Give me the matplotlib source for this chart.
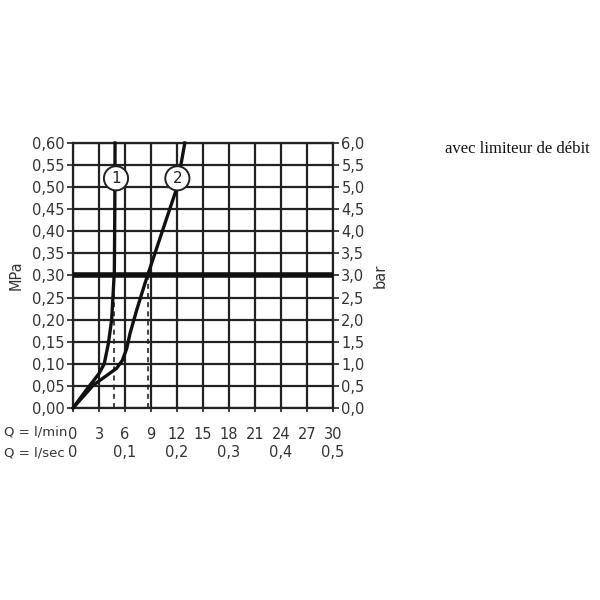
import matplotlib.pyplot as plt

# Durchfluss-Kennlinien (l/min -> MPa)
q_curve1 = [0, 1.5, 3.0, 3.6, 4.08, 4.46, 4.65, 4.77, 4.82, 4.85]
p_curve1 = [0, 0.04, 0.078, 0.1, 0.146, 0.20, 0.267, 0.31, 0.45, 0.60]
q_curve2 = [0, 2.35, 4.2, 5.04, 5.7, 6.2, 6.58, 7.35, 8.3, 8.6, 10.3, 11.96, 12.9]
p_curve2 = [0, 0.052, 0.078, 0.09, 0.108, 0.135, 0.169, 0.222, 0.282, 0.30, 0.40, 0.497, 0.60]
dashed_q = [4.75, 8.6]
ref_pressure = 0.30

lmin_ticks = [0, 3, 6, 9, 12, 15, 18, 21, 24, 27, 30]
lsec_ticks = [0, 6, 12, 18, 24, 30]
lsec_labels = ["0", "0,1", "0,2", "0,3", "0,4", "0,5"]
mpa_ticks = [i * 0.05 for i in range(13)]
bar_ticks = [i * 0.5 for i in range(13)]

dark = "#222222"
txt = "#333333"
fs = 10.5

fig = plt.figure(figsize=(6, 6), dpi=100)
ax = fig.add_axes([0.1217, 0.32, 0.4333, 0.4417])

ax.set_xlim(0, 30)
ax.set_ylim(0, 0.6)
ax.set_xticks(lmin_ticks)
ax.set_xticklabels([str(v) for v in lmin_ticks], fontsize=fs, color=txt)
ax.set_yticks(mpa_ticks)
ax.set_yticklabels([f"{v:.2f}".replace(".", ",") for v in mpa_ticks], fontsize=fs, color=txt)
ax.grid(True, color=dark, linewidth=1.6)
ax.tick_params(axis="y", length=4, width=1.2, color=dark, pad=2)
ax.tick_params(axis="x", length=3, width=1.2, color=dark, pad=10.5)
for s in ax.spines.values():
    s.set_linewidth(1.6)
    s.set_color(dark)

ax.axhline(ref_pressure, color="#111111", linewidth=4, zorder=3)
for q in dashed_q:
    ax.plot([q, q], [0, ref_pressure], color=dark, linestyle=(0, (3, 2.5)), linewidth=1.2, zorder=3)

ax.plot(q_curve1, p_curve1, color="#111111", linewidth=2.4, zorder=4, clip_on=False)
ax.plot(q_curve2, p_curve2, color="#111111", linewidth=2.4, zorder=4, clip_on=False)

for lbl, (cx, cy) in zip(["1", "2"], [(4.96, 0.52), (12.04, 0.52)]):
    ax.text(cx, cy, lbl, ha="center", va="center", fontsize=11, color=dark, zorder=6,
            bbox=dict(boxstyle="circle,pad=0.3", facecolor="white", edgecolor=dark, linewidth=1.4))

ax.set_ylabel("MPa", fontsize=fs, color=txt, labelpad=6)

ax2 = ax.twinx()
ax2.set_ylim(0, 6)
ax2.set_yticks(bar_ticks)
ax2.set_yticklabels([f"{v:.1f}".replace(".", ",") for v in bar_ticks], fontsize=fs, color=txt)
ax2.tick_params(axis="y", length=4, width=1.2, color=dark, pad=2)
ax2.set_ylabel("bar", fontsize=fs, color=txt, rotation=90, labelpad=6)
for s in ax2.spines.values():
    s.set_visible(False)

sec = ax.secondary_xaxis(-0.14)
sec.set_xticks(lsec_ticks)
sec.set_xticklabels(lsec_labels, fontsize=fs, color=txt)
sec.tick_params(length=0, pad=0)
sec.spines["bottom"].set_visible(False)

fig.text(0.006, 0.28, "Q = l/min", fontsize=9.5, color=txt, va="center")
fig.text(0.006, 0.245, "Q = l/sec", fontsize=9.5, color=txt, va="center")
fig.text(0.742, 0.751, "avec limiteur de débit", fontsize=12, family="Liberation Serif",
         color="#111111", va="center")

fig.savefig("out.png", dpi=100, facecolor="white")
